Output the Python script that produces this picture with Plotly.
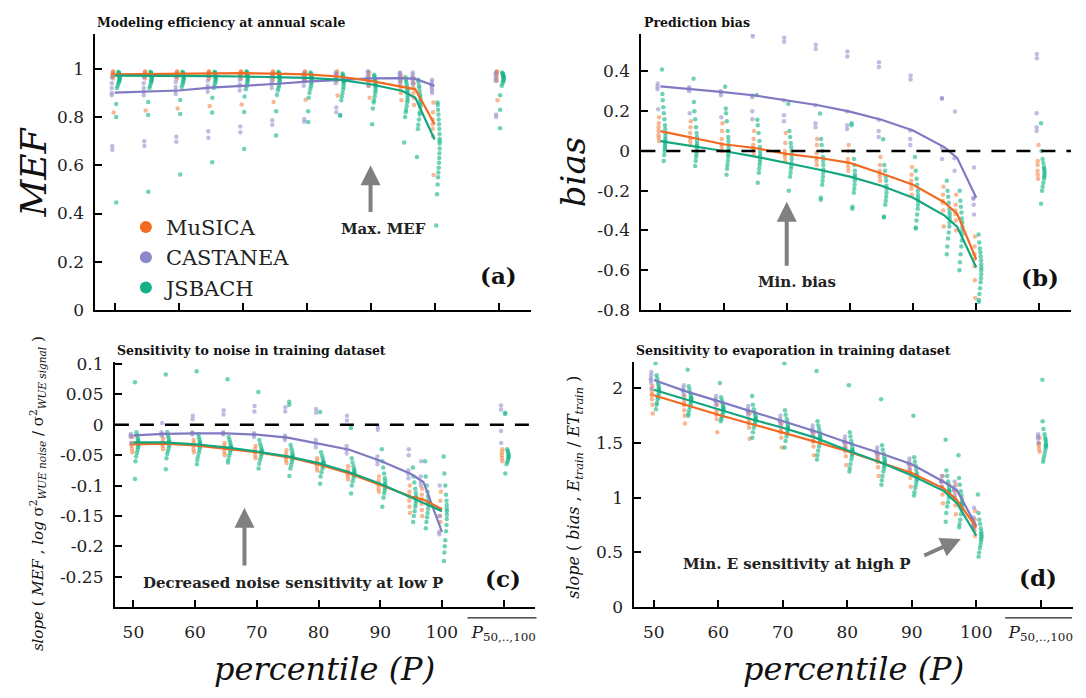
import numpy as np
import plotly.graph_objects as go

# ---------------------------------------------------------------- data
PCT = [50, 55, 60, 65, 70, 75, 80, 85, 90, 95, 97, 100]
MEAN_POS = 110                      # axis position of the all-percentile column
COLUMNS = PCT + [MEAN_POS]

MODEL_NAMES = ["MuSICA", "CASTANEA", "JSBACH"]

X_TICKS = [50, 60, 70, 80, 90, 100, 110]
X_TICKTEXT = ["50", "60", "70", "80", "90", "100", "<i>P</i><sub>50,..,100</sub>"]

# (a) modelling efficiency, median lines
MEF_MUSICA = [0.977, 0.979, 0.980, 0.982, 0.982, 0.980, 0.977, 0.968, 0.950, 0.925, 0.915, 0.770]
MEF_CASTANEA = [0.901, 0.905, 0.910, 0.922, 0.928, 0.937, 0.947, 0.955, 0.960, 0.961, 0.958, 0.930]
MEF_JSBACH = [0.972, 0.972, 0.970, 0.970, 0.968, 0.965, 0.962, 0.955, 0.936, 0.908, 0.880, 0.707]

# (a) per-site values, one list per column
MEF_PTS_MUSICA = [
    [0.99, 0.985, 0.98, 0.975, 0.97, 0.96, 0.819],
    [0.99, 0.985, 0.98, 0.975, 0.97, 0.96, 0.827],
    [0.99, 0.985, 0.98, 0.975, 0.97, 0.96, 0.835],
    [0.99, 0.987, 0.982, 0.977, 0.97, 0.96, 0.846],
    [0.99, 0.987, 0.982, 0.977, 0.97, 0.96, 0.852],
    [0.99, 0.985, 0.98, 0.975, 0.968, 0.955, 0.862],
    [0.99, 0.985, 0.978, 0.97, 0.96, 0.95, 0.872],
    [0.99, 0.98, 0.97, 0.96, 0.95, 0.889],
    [0.985, 0.97, 0.955, 0.945, 0.93, 0.88],
    [0.97, 0.95, 0.93, 0.92, 0.9, 0.87],
    [0.96, 0.94, 0.92, 0.9, 0.88, 0.85],
    [0.86, 0.82, 0.79, 0.77, 0.75, 0.72, 0.56],
    [0.99, 0.985, 0.975, 0.965, 0.95, 0.87],
]
MEF_PTS_CASTANEA = [
    [0.965, 0.94, 0.92, 0.90, 0.89, 0.68, 0.664],
    [0.965, 0.94, 0.92, 0.905, 0.89, 0.70, 0.68],
    [0.965, 0.945, 0.925, 0.91, 0.895, 0.718, 0.698],
    [0.97, 0.95, 0.93, 0.92, 0.905, 0.741, 0.714],
    [0.97, 0.955, 0.935, 0.928, 0.91, 0.761, 0.737],
    [0.975, 0.96, 0.945, 0.937, 0.92, 0.787, 0.768],
    [0.98, 0.97, 0.955, 0.947, 0.93, 0.792, 0.78],
    [0.985, 0.975, 0.96, 0.955, 0.94, 0.84, 0.82],
    [0.99, 0.985, 0.97, 0.96, 0.95, 0.93],
    [0.985, 0.98, 0.97, 0.961, 0.95, 0.94],
    [0.985, 0.975, 0.965, 0.958, 0.945, 0.935],
    [0.955, 0.945, 0.935, 0.93, 0.92, 0.91, 0.9],
    [0.985, 0.975, 0.96, 0.95, 0.81, 0.80],
]
MEF_PTS_JSBACH = [
    [0.988, 0.985, 0.982, 0.98, 0.978, 0.976, 0.974, 0.972, 0.97, 0.967, 0.964, 0.96, 0.955, 0.95, 0.945, 0.94, 0.93, 0.92, 0.854, 0.80, 0.446],
    [0.988, 0.985, 0.982, 0.98, 0.977, 0.975, 0.972, 0.97, 0.966, 0.962, 0.958, 0.953, 0.947, 0.94, 0.93, 0.92, 0.862, 0.808, 0.49],
    [0.988, 0.985, 0.982, 0.979, 0.976, 0.973, 0.97, 0.966, 0.962, 0.957, 0.95, 0.943, 0.935, 0.925, 0.871, 0.813, 0.562],
    [0.988, 0.985, 0.982, 0.979, 0.976, 0.973, 0.97, 0.966, 0.961, 0.955, 0.948, 0.94, 0.93, 0.92, 0.88, 0.819, 0.613],
    [0.99, 0.986, 0.983, 0.98, 0.977, 0.973, 0.968, 0.964, 0.958, 0.952, 0.945, 0.937, 0.928, 0.915, 0.885, 0.821, 0.667],
    [0.988, 0.984, 0.98, 0.976, 0.972, 0.968, 0.965, 0.96, 0.955, 0.948, 0.94, 0.93, 0.92, 0.91, 0.891, 0.824, 0.723],
    [0.985, 0.98, 0.976, 0.972, 0.968, 0.965, 0.962, 0.958, 0.953, 0.946, 0.938, 0.928, 0.915, 0.9, 0.88, 0.824, 0.779],
    [0.98, 0.975, 0.97, 0.965, 0.96, 0.955, 0.95, 0.944, 0.936, 0.926, 0.915, 0.9, 0.885, 0.87, 0.808, 0.805],
    [0.975, 0.97, 0.963, 0.955, 0.948, 0.94, 0.935, 0.928, 0.92, 0.91, 0.9, 0.885, 0.87, 0.86, 0.835, 0.77],
    [0.965, 0.955, 0.945, 0.935, 0.925, 0.915, 0.908, 0.9, 0.89, 0.88, 0.87, 0.86, 0.845, 0.83, 0.82, 0.80, 0.694],
    [0.955, 0.945, 0.93, 0.92, 0.905, 0.89, 0.88, 0.87, 0.86, 0.85, 0.84, 0.82, 0.81, 0.79, 0.768, 0.75, 0.634],
    [0.86, 0.85, 0.83, 0.81, 0.79, 0.77, 0.75, 0.73, 0.71, 0.70, 0.69, 0.67, 0.65, 0.63, 0.61, 0.59, 0.57, 0.55, 0.52, 0.48, 0.35],
    [0.985, 0.98, 0.977, 0.974, 0.971, 0.968, 0.965, 0.962, 0.958, 0.953, 0.948, 0.94, 0.93, 0.89, 0.83, 0.754],
]

# (b) prediction bias, median lines
BIAS_MUSICA = [0.100, 0.067, 0.034, 0.015, -0.015, -0.034, -0.060, -0.113, -0.170, -0.260, -0.317, -0.545]
BIAS_CASTANEA = [0.325, 0.312, 0.296, 0.279, 0.255, 0.230, 0.198, 0.157, 0.103, 0.018, -0.036, -0.235]
BIAS_JSBACH = [0.050, 0.026, 0.000, -0.028, -0.060, -0.093, -0.129, -0.175, -0.235, -0.325, -0.382, -0.586]

BIAS_PTS_MUSICA = [
    [0.17, 0.14, 0.12, 0.10, 0.08, 0.067, 0.05],
    [0.15, 0.12, 0.09, 0.067, 0.05, 0.03],
    [0.14, 0.1, 0.06, 0.034, 0.02, 0.0],
    [0.1, 0.06, 0.03, 0.015, 0.0, -0.02],
    [0.09, 0.04, 0.0, -0.015, -0.03, -0.05],
    [0.06, 0.03, -0.01, -0.034, -0.05, -0.07],
    [0.03, 0.0, -0.04, -0.06, -0.08, -0.1],
    [-0.03, -0.07, -0.1, -0.113, -0.13, -0.15],
    [-0.08, -0.12, -0.15, -0.17, -0.19, -0.22],
    [-0.18, -0.22, -0.25, -0.26, -0.3, -0.38],
    [-0.22, -0.27, -0.3, -0.317, -0.35, -0.4],
    [-0.43, -0.48, -0.52, -0.545, -0.58, -0.65, -0.74],
    [0.03, -0.05, -0.07, -0.1, -0.12, -0.14],
]
BIAS_PTS_CASTANEA = [
    [0.34, 0.325, 0.31, 0.21],
    [0.32, 0.312, 0.30, 0.19],
    [0.605, 0.30, 0.296, 0.28, 0.17],
    [0.59, 0.576, 0.279, 0.27, 0.2, 0.16],
    [0.57, 0.549, 0.255, 0.18, 0.15],
    [0.535, 0.513, 0.23, 0.14, 0.12],
    [0.50, 0.475, 0.198, 0.13, 0.11],
    [0.446, 0.423, 0.157, 0.1, 0.07],
    [0.38, 0.36, 0.103, 0.06, 0.03],
    [0.266, 0.263, 0.018, -0.04],
    [0.198, -0.036, -0.1],
    [-0.083, -0.235, -0.24, -0.27, -0.32],
    [0.488, 0.467, 0.19, 0.12, 0.1],
]
BIAS_PTS_JSBACH = [
    [0.41, 0.287, 0.255, 0.22, 0.19, 0.16, 0.13, 0.11, 0.09, 0.075, 0.06, 0.05, 0.04, 0.03, 0.02, 0.01, 0.0, -0.02, -0.05],
    [0.364, 0.247, 0.2, 0.16, 0.12, 0.09, 0.07, 0.05, 0.035, 0.026, 0.015, 0.0, -0.015, -0.03, -0.05, -0.075],
    [0.323, 0.214, 0.19, 0.15, 0.1, 0.07, 0.05, 0.03, 0.015, 0.0, -0.015, -0.03, -0.05, -0.07, -0.09, -0.12],
    [0.282, 0.157, 0.13, 0.09, 0.05, 0.02, 0.0, -0.015, -0.028, -0.04, -0.055, -0.07, -0.09, -0.11, -0.16],
    [0.238, 0.1, 0.07, 0.04, 0.02, 0.0, -0.02, -0.04, -0.06, -0.075, -0.09, -0.11, -0.13, -0.2],
    [0.189, 0.06, 0.03, 0.0, -0.03, -0.05, -0.07, -0.093, -0.11, -0.13, -0.15, -0.17, -0.235, -0.245],
    [0.14, 0.13, 0.0, -0.04, -0.07, -0.1, -0.12, -0.129, -0.15, -0.17, -0.19, -0.21, -0.28, -0.29],
    [0.059, -0.07, -0.1, -0.13, -0.15, -0.175, -0.19, -0.21, -0.23, -0.25, -0.27, -0.33, -0.335],
    [-0.03, -0.1, -0.14, -0.17, -0.2, -0.22, -0.235, -0.25, -0.27, -0.29, -0.32, -0.35, -0.385, -0.39],
    [-0.15, -0.2, -0.23, -0.26, -0.29, -0.31, -0.325, -0.34, -0.36, -0.38, -0.41, -0.44, -0.48, -0.52],
    [-0.2, -0.25, -0.28, -0.31, -0.34, -0.36, -0.382, -0.4, -0.42, -0.45, -0.48, -0.52, -0.56, -0.6],
    [-0.42, -0.46, -0.49, -0.51, -0.53, -0.55, -0.57, -0.586, -0.6, -0.62, -0.64, -0.66, -0.69, -0.72, -0.75, -0.76],
    [0.14, 0.0, -0.04, -0.06, -0.08, -0.09, -0.1, -0.11, -0.12, -0.13, -0.14, -0.16, -0.18, -0.2, -0.265],
]

# (c) sensitivity to noise, median lines
NOISE_MUSICA = [-0.032, -0.031, -0.034, -0.039, -0.045, -0.053, -0.065, -0.080, -0.099, -0.118, -0.123, -0.139]
NOISE_CASTANEA = [-0.0175, -0.015, -0.014, -0.014, -0.016, -0.021, -0.031, -0.041, -0.059, -0.081, -0.094, -0.176]
NOISE_JSBACH = [-0.029, -0.029, -0.032, -0.037, -0.044, -0.052, -0.063, -0.078, -0.097, -0.120, -0.128, -0.142]

NOISE_PTS_MUSICA = [
    [-0.02, -0.03, -0.032, -0.035, -0.04, -0.045],
    [-0.022, -0.028, -0.031, -0.035, -0.04],
    [-0.025, -0.03, -0.034, -0.04, -0.045],
    [-0.03, -0.035, -0.039, -0.045, -0.05],
    [-0.035, -0.04, -0.045, -0.05, -0.055],
    [-0.042, -0.048, -0.053, -0.058, -0.063],
    [-0.055, -0.06, -0.065, -0.07, -0.075],
    [-0.068, -0.075, -0.08, -0.085, -0.09],
    [-0.085, -0.092, -0.099, -0.105, -0.11],
    [-0.1, -0.11, -0.118, -0.125, -0.135, -0.145],
    [-0.105, -0.115, -0.123, -0.13, -0.14, -0.15],
    [-0.11, -0.125, -0.139, -0.15, -0.16],
    [-0.04, -0.045, -0.05, -0.055, -0.06],
]
NOISE_PTS_CASTANEA = [
    [-0.015, -0.0175, -0.02, -0.03],
    [0.003, -0.012, -0.015, -0.018],
    [0.015, 0.009, -0.012, -0.014, -0.016],
    [0.024, 0.017, -0.012, -0.014, -0.016],
    [0.031, 0.022, -0.014, -0.016, -0.02],
    [0.029, 0.022, -0.018, -0.021, -0.025],
    [0.026, 0.02, -0.025, -0.031, -0.037],
    [0.015, 0.007, -0.035, -0.041, -0.047],
    [-0.003, -0.008, -0.052, -0.059, -0.065],
    [-0.04, -0.05, -0.075, -0.081, -0.088],
    [-0.06, -0.085, -0.094, -0.1],
    [-0.1, -0.15, -0.176, -0.18],
    [0.032, 0.025, -0.01, -0.03],
]
NOISE_PTS_JSBACH = [
    [0.07, -0.012, -0.017, -0.021, -0.024, -0.027, -0.029, -0.031, -0.034, -0.037, -0.041, -0.046, -0.052, -0.06, -0.089],
    [0.083, -0.012, -0.017, -0.021, -0.025, -0.028, -0.029, -0.031, -0.034, -0.038, -0.043, -0.048, -0.055, -0.073],
    [0.088, -0.015, -0.02, -0.024, -0.028, -0.031, -0.032, -0.034, -0.037, -0.041, -0.046, -0.052, -0.058, -0.065],
    [0.075, -0.02, -0.025, -0.029, -0.033, -0.036, -0.037, -0.039, -0.042, -0.046, -0.051, -0.057, -0.062],
    [0.054, -0.025, -0.031, -0.036, -0.04, -0.043, -0.044, -0.046, -0.049, -0.053, -0.058, -0.064, -0.072],
    [0.038, 0.033, -0.033, -0.039, -0.044, -0.048, -0.051, -0.052, -0.054, -0.057, -0.061, -0.066, -0.072, -0.084],
    [0.021, -0.045, -0.051, -0.056, -0.06, -0.062, -0.063, -0.065, -0.068, -0.072, -0.078, -0.085, -0.097],
    [-0.005, -0.055, -0.062, -0.068, -0.073, -0.076, -0.078, -0.08, -0.083, -0.087, -0.093, -0.1, -0.113],
    [-0.04, -0.06, -0.07, -0.08, -0.088, -0.093, -0.097, -0.1, -0.104, -0.108, -0.113, -0.12, -0.135],
    [-0.07, -0.085, -0.095, -0.105, -0.112, -0.118, -0.12, -0.125, -0.13, -0.135, -0.142, -0.15, -0.16],
    [-0.06, -0.085, -0.1, -0.11, -0.118, -0.124, -0.128, -0.132, -0.138, -0.145, -0.152, -0.16, -0.17],
    [-0.052, -0.08, -0.1, -0.115, -0.125, -0.132, -0.138, -0.142, -0.148, -0.155, -0.165, -0.175, -0.19, -0.2, -0.21, -0.224],
    [0.02, 0.018, -0.04, -0.043, -0.046, -0.049, -0.051, -0.053, -0.055, -0.058, -0.061, -0.065, -0.08],
]

# (d) sensitivity to evaporation, median lines
EVAP_MUSICA = [1.938, 1.846, 1.760, 1.677, 1.597, 1.514, 1.425, 1.327, 1.227, 1.084, 0.980, 0.729]
EVAP_CASTANEA = [2.077, 1.973, 1.884, 1.790, 1.700, 1.609, 1.505, 1.410, 1.307, 1.144, 1.070, 0.744]
EVAP_JSBACH = [1.988, 1.900, 1.810, 1.720, 1.640, 1.550, 1.434, 1.327, 1.203, 1.061, 0.951, 0.655]

EVAP_PTS_MUSICA = [
    [2.02, 1.98, 1.95, 1.938, 1.9, 1.85, 1.77],
    [1.93, 1.89, 1.86, 1.846, 1.8, 1.75, 1.68],
    [1.85, 1.8, 1.77, 1.76, 1.72, 1.6],
    [1.77, 1.72, 1.69, 1.677, 1.64, 1.54],
    [1.68, 1.64, 1.61, 1.597, 1.55, 1.46],
    [1.6, 1.56, 1.52, 1.514, 1.47, 1.39],
    [1.5, 1.46, 1.44, 1.425, 1.38, 1.3],
    [1.4, 1.36, 1.34, 1.327, 1.28, 1.2],
    [1.3, 1.26, 1.24, 1.227, 1.18, 1.1],
    [1.2, 1.15, 1.1, 1.084, 1.03, 0.95],
    [1.12, 1.05, 1.0, 0.98, 0.93, 0.85],
    [0.88, 0.8, 0.75, 0.729, 0.7, 0.65],
    [1.55, 1.5, 1.48, 1.45, 1.42],
]
EVAP_PTS_CASTANEA = [
    [2.15, 2.12, 2.09, 2.077, 2.05, 2.0],
    [2.03, 2.0, 1.98, 1.973, 1.94],
    [1.93, 1.9, 1.89, 1.884, 1.85],
    [1.84, 1.81, 1.795, 1.79, 1.76],
    [1.75, 1.72, 1.705, 1.7, 1.67],
    [1.66, 1.63, 1.615, 1.609, 1.58],
    [1.56, 1.53, 1.51, 1.505, 1.47],
    [1.46, 1.43, 1.415, 1.41, 1.38],
    [1.36, 1.33, 1.31, 1.307, 1.27],
    [1.2, 1.16, 1.15, 1.144, 1.1],
    [1.15, 1.1, 1.075, 1.07, 1.02],
    [0.91, 0.82, 0.76, 0.744, 0.72],
    [1.58, 1.56, 1.54, 1.5],
]
EVAP_PTS_JSBACH = [
    [2.23, 2.12, 2.09, 2.06, 2.04, 2.02, 2.0, 1.99, 1.98, 1.96, 1.94, 1.92, 1.9, 1.87, 1.85, 1.81],
    [2.17, 2.02, 1.99, 1.96, 1.94, 1.92, 1.91, 1.9, 1.89, 1.87, 1.85, 1.83, 1.8, 1.77, 1.75],
    [2.05, 1.92, 1.89, 1.87, 1.85, 1.83, 1.82, 1.81, 1.8, 1.78, 1.76, 1.74, 1.72, 1.7],
    [1.93, 1.85, 1.81, 1.78, 1.76, 1.74, 1.73, 1.72, 1.71, 1.69, 1.67, 1.64, 1.6, 1.55],
    [2.23, 1.8, 1.76, 1.72, 1.69, 1.67, 1.65, 1.64, 1.63, 1.61, 1.59, 1.56, 1.52, 1.46],
    [2.16, 1.7, 1.66, 1.63, 1.6, 1.58, 1.56, 1.55, 1.54, 1.52, 1.5, 1.47, 1.43, 1.39, 1.35],
    [2.03, 1.6, 1.56, 1.52, 1.49, 1.46, 1.44, 1.434, 1.42, 1.4, 1.38, 1.35, 1.31, 1.27, 1.24],
    [1.9, 1.48, 1.44, 1.4, 1.37, 1.35, 1.33, 1.327, 1.31, 1.29, 1.27, 1.24, 1.2, 1.16, 1.12],
    [1.75, 1.37, 1.33, 1.29, 1.26, 1.23, 1.21, 1.2, 1.19, 1.17, 1.15, 1.12, 1.09, 1.05, 1.02],
    [1.53, 1.25, 1.2, 1.15, 1.12, 1.09, 1.07, 1.06, 1.05, 1.03, 1.0, 0.96, 0.92, 0.86, 0.78],
    [1.39, 1.18, 1.12, 1.06, 1.02, 0.99, 0.96, 0.95, 0.94, 0.92, 0.89, 0.85, 0.8, 0.76, 0.73],
    [1.03, 0.86, 0.8, 0.76, 0.72, 0.69, 0.67, 0.655, 0.64, 0.62, 0.6, 0.57, 0.54, 0.5, 0.46],
    [2.08, 1.7, 1.63, 1.58, 1.55, 1.53, 1.51, 1.49, 1.48, 1.47, 1.45, 1.42, 1.39, 1.36, 1.33],
]

# ---------------------------------------------------------------- styling
DOT_COLORS = ["rgba(244,112,40,0.5)", "rgba(140,134,202,0.55)", "rgba(22,182,138,0.62)"]
LINE_COLORS = ["#f06a22", "#7f7ac2", "#14a67e"]
LEGEND_COLORS = ["#f26b21", "#8c87c8", "#16b088"]
# horizontal placement of each model's dots around the column (base, swarm amplitude)
DOT_SPREAD = [(-0.15, -0.15), (-0.35, -0.1), (0.25, 0.55)]

SERIF = "DejaVu Serif"
TICK_FONT = dict(family=SERIF, size=17, color="#222")


def swarm_offsets(vals, base, amp):
    v = np.asarray(vals, dtype=float)
    med = np.median(v)
    q1, q3 = np.percentile(v, [25, 75])
    s = max(q3 - q1, 1e-6)
    return base + amp * np.exp(-((v - med) / s) ** 2)


panels = [
    dict(xa="x", ya="y",
         lines=(MEF_MUSICA, MEF_CASTANEA, MEF_JSBACH),
         pts=(MEF_PTS_MUSICA, MEF_PTS_CASTANEA, MEF_PTS_JSBACH)),
    dict(xa="x2", ya="y2",
         lines=(BIAS_MUSICA, BIAS_CASTANEA, BIAS_JSBACH),
         pts=(BIAS_PTS_MUSICA, BIAS_PTS_CASTANEA, BIAS_PTS_JSBACH)),
    dict(xa="x3", ya="y3",
         lines=(NOISE_MUSICA, NOISE_CASTANEA, NOISE_JSBACH),
         pts=(NOISE_PTS_MUSICA, NOISE_PTS_CASTANEA, NOISE_PTS_JSBACH)),
    dict(xa="x4", ya="y4",
         lines=(EVAP_MUSICA, EVAP_CASTANEA, EVAP_JSBACH),
         pts=(EVAP_PTS_MUSICA, EVAP_PTS_CASTANEA, EVAP_PTS_JSBACH)),
]

fig = go.Figure()

for p in panels:
    # per-site dots
    for k in range(3):
        xs, ys = [], []
        base, amp = DOT_SPREAD[k]
        for cx, vals in zip(COLUMNS, p["pts"][k]):
            xs.extend((cx + swarm_offsets(vals, base, amp)).tolist())
            ys.extend(vals)
        fig.add_trace(go.Scatter(
            x=xs, y=ys, mode="markers", xaxis=p["xa"], yaxis=p["ya"],
            marker=dict(size=4.5, color=DOT_COLORS[k], line=dict(width=0)),
            showlegend=False, hoverinfo="skip"))
    # median lines (CASTANEA underneath, JSBACH on top)
    for k in (1, 0, 2):
        fig.add_trace(go.Scatter(
            x=PCT, y=p["lines"][k], mode="lines", xaxis=p["xa"], yaxis=p["ya"],
            line=dict(color=LINE_COLORS[k], width=2.2),
            showlegend=False, name=MODEL_NAMES[k]))

# legend entries
for k in range(3):
    fig.add_trace(go.Scatter(
        x=[None], y=[None], mode="markers", name=MODEL_NAMES[k],
        marker=dict(size=12, color=LEGEND_COLORS[k]), showlegend=True))


def xaxis(domain, anchor, labels):
    return dict(domain=domain, anchor=anchor, range=[47, 115],
                showgrid=False, zeroline=False, showline=True,
                linecolor="black", linewidth=2, mirror=False,
                ticks="inside", ticklen=7, tickwidth=1.5, tickcolor="black",
                tickvals=X_TICKS, ticktext=X_TICKTEXT,
                showticklabels=labels, tickfont=TICK_FONT,
                ticklabelstandoff=8)


def yaxis(domain, anchor, rng, vals, text):
    return dict(domain=domain, anchor=anchor, range=rng,
                showgrid=False, zeroline=False, showline=True,
                linecolor="black", linewidth=2,
                ticks="inside", ticklen=7, tickwidth=1.5, tickcolor="black",
                tickvals=vals, ticktext=text, tickfont=TICK_FONT,
                ticklabelstandoff=6)


W, H = 1086, 698
top_y = [1 - 310 / H, 1 - 27 / H]
bot_y = [1 - 615 / H, 1 - 363 / H]

fig.update_layout(
    width=W, height=H, margin=dict(l=0, r=0, t=0, b=0),
    paper_bgcolor="white", plot_bgcolor="white",
    xaxis=xaxis([95.5 / W, 531 / W], "y", False),
    xaxis2=xaxis([642 / W, 1072 / W], "y2", False),
    xaxis3=xaxis([115 / W, 535 / W], "y3", True),
    xaxis4=xaxis([635 / W, 1074 / W], "y4", True),
    yaxis=yaxis(top_y, "x", [0, 1.143],
                [0, 0.2, 0.4, 0.6, 0.8, 1], ["0", "0.2", "0.4", "0.6", "0.8", "1"]),
    yaxis2=yaxis(top_y, "x2", [-0.8, 0.587],
                 [-0.8, -0.6, -0.4, -0.2, 0, 0.2, 0.4],
                 ["-0.8", "-0.6", "-0.4", "-0.2", "0", "0.2", "0.4"]),
    yaxis3=yaxis(bot_y, "x3", [-0.3, 0.104],
                 [-0.25, -0.2, -0.15, -0.1, -0.05, 0, 0.05, 0.1],
                 ["-0.25", "-0.2", "-0.15", "-0.1", "-0.05", "0", "0.05", "0.1"]),
    yaxis4=yaxis(bot_y, "x4", [0, 2.245],
                 [0, 0.5, 1, 1.5, 2], ["0", "0.5", "1", "1.5", "2"]),
    legend=dict(x=126 / W, y=1 - 204 / H, xanchor="left", yanchor="top",
                font=dict(family=SERIF, size=21, color="#222"),
                bgcolor="rgba(0,0,0,0)", itemsizing="constant",
                tracegroupgap=0),
    showlegend=True,
)

# zero reference lines
for xa, ya in (("x2", "y2"), ("x3", "y3")):
    fig.add_shape(type="line", xref=f"{xa} domain", yref=ya, x0=0, x1=1, y0=0, y1=0,
                  line=dict(color="black", width=2.5, dash="14px,11px"))

# overline on the all-percentile tick label
for x0, x1 in ((468, 537), (1006, 1073)):
    fig.add_shape(type="line", xref="paper", yref="paper",
                  x0=x0 / W, x1=x1 / W, y0=1 - 626 / H, y1=1 - 626 / H,
                  line=dict(color="#222", width=1.2))

ann = []
# panel headings
for txt, x, y in (("Modeling efficiency at annual scale", 95, 15),
                  ("Prediction bias", 643, 15),
                  ("Sensitivity to noise in training dataset", 115, 352),
                  ("Sensitivity to evaporation in training dataset", 635, 352)):
    ann.append(dict(text=f"<b>{txt}</b>", xref="paper", yref="paper",
                    x=x / W, y=1 - y / H, xanchor="left", yanchor="middle",
                    showarrow=False, font=dict(family=SERIF, size=12.5, color="#111")))

# axis titles
ann += [
    dict(text="<i>MEF</i>", x=33.5 / W, y=1 - 168.5 / H, textangle=-90,
         font=dict(family=SERIF, size=36, color="#111")),
    dict(text="<i>bias</i>", x=573 / W, y=1 - 168 / H, textangle=-90,
         font=dict(family=SERIF, size=34, color="#111")),
    dict(text="<i>slope</i> ( <i>MEF</i> , <i>log</i> σ<sup>2</sup><sub><i>WUE noise</i></sub>"
              " / σ<sup>2</sup><sub><i>WUE signal</i></sub> )",
         x=37 / W, y=1 - 498 / H, textangle=-90,
         font=dict(family=SERIF, size=15, color="#111")),
    dict(text="<i>slope</i> ( <i>bias</i> , <i>E</i><sub><i>train</i></sub>"
              " / <i>ET</i><sub><i>train</i></sub> )",
         x=575 / W, y=1 - 492 / H, textangle=-90,
         font=dict(family=SERIF, size=16, color="#111")),
    dict(text="<i>percentile (P)</i>", x=325 / W, y=1 - 678 / H,
         font=dict(family=SERIF, size=32, color="#111")),
    dict(text="<i>percentile (P)</i>", x=854 / W, y=1 - 678 / H,
         font=dict(family=SERIF, size=32, color="#111")),
]
for a in ann[4:]:
    a.update(xref="paper", yref="paper", xanchor="center", yanchor="middle", showarrow=False)

# panel letters and notes
NOTE_FONT = dict(family=SERIF, size=15, color="#222")
LETTER_FONT = dict(family=SERIF, size=23, color="#111")
for xa, ya, txt, x, y, font in (
        ("x", "y", "<b>Max. MEF</b>", 92.1, 0.335, NOTE_FONT),
        ("x", "y", "<b>(a)</b>", 110.0, 0.141, LETTER_FONT),
        ("x2", "y2", "<b>Min. bias</b>", 71.6, -0.657, NOTE_FONT),
        ("x2", "y2", "<b>(b)</b>", 110.1, -0.634, LETTER_FONT),
        ("x3", "y3", "<b>Decreased noise sensitivity at low P</b>", 75.9, -0.261, NOTE_FONT),
        ("x3", "y3", "<b>(c)</b>", 109.9, -0.253, LETTER_FONT),
        ("x4", "y4", "<b>Min. E sensitivity at high P</b>", 72.2, 0.392, NOTE_FONT),
        ("x4", "y4", "<b>(d)</b>", 109.5, 0.267, LETTER_FONT)):
    ann.append(dict(text=txt, xref=xa, yref=ya, x=x, y=y, xanchor="center",
                    yanchor="middle", showarrow=False, font=font))

# grey arrows (tip first, tail second)
for xa, ya, tip, tail in (("x", "y", (90, 0.60), (90, 0.40)),
                          ("x2", "y2", (70, -0.255), (70, -0.585)),
                          ("x3", "y3", (68, -0.1365), (68, -0.234)),
                          ("x4", "y4", (97.6, 0.624), (91.7, 0.466))):
    ann.append(dict(text="", xref=xa, yref=ya, axref=xa, ayref=ya,
                    x=tip[0], y=tip[1], ax=tail[0], ay=tail[1],
                    showarrow=True, arrowhead=2, arrowsize=1.0, arrowwidth=4,
                    arrowcolor="#808080", standoff=0))

fig.update_layout(annotations=ann)
fig.write_html("out.html")
